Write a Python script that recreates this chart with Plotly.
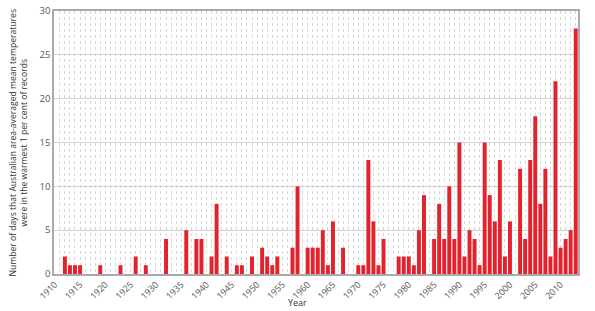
import plotly.graph_objects as go

years = list(range(1910, 2014))
days = [
    0, 0, 2, 1, 1, 1, 0, 0, 0, 1,        # 1910-1919
    0, 0, 0, 1, 0, 0, 2, 0, 1, 0,        # 1920-1929
    0, 0, 4, 0, 0, 0, 5, 0, 4, 4,        # 1930-1939
    0, 2, 8, 0, 2, 0, 1, 1, 0, 2,        # 1940-1949
    0, 3, 2, 1, 2, 0, 0, 3, 10, 0,       # 1950-1959
    3, 3, 3, 5, 1, 6, 0, 3, 0, 0,        # 1960-1969
    1, 1, 13, 6, 1, 4, 0, 0, 2, 2,       # 1970-1979
    2, 1, 5, 9, 0, 4, 8, 4, 10, 4,       # 1980-1989
    15, 2, 5, 4, 1, 15, 9, 6, 13, 2,     # 1990-1999
    6, 0, 12, 4, 13, 18, 8, 12, 2, 22,   # 2000-2009
    3, 4, 5, 28,                         # 2010-2013
]
xtick_vals = list(range(1910, 2011, 5))
xtick_text = [str(v) for v in xtick_vals]
ytick_vals = [0, 5, 10, 15, 20, 25, 30]
x_title = "Year"
y_title = ("Number of days that Australian area-averaged mean temperatures<br>"
           "were in the warmest 1 per cent of records")

FONT = "Open Sans"
W, H = 595, 311
ML, MR, MT, MB = 54, 17, 11, 37

fig = go.Figure()
fig.add_trace(go.Bar(x=years, y=days, marker=dict(color="#E3222C", line=dict(width=0)),
                     width=0.78))

fig.update_layout(
    width=W, height=H,
    margin=dict(l=ML, r=MR, t=MT, b=MB, autoexpand=False),
    paper_bgcolor="white", plot_bgcolor="white",
    showlegend=False,
    font=dict(family=FONT, color="#444", size=9),
)
fig.update_xaxes(
    range=[1909.85, 2013.45],
    tickmode="array", tickvals=xtick_vals, ticktext=xtick_text,
    tickangle=-45, tickfont=dict(size=9, color="#555"),
    showgrid=False,
    minor=dict(dtick=1, tick0=1910, showgrid=True, gridcolor="#d6d6d6",
               griddash="dot", gridwidth=1),
    showline=True, linecolor="#aaa", linewidth=1.5, mirror=True,
    ticks="", zeroline=False, automargin=False,
)
fig.update_yaxes(
    range=[0, 30],
    tickmode="array", tickvals=ytick_vals,
    tickfont=dict(size=9.5, color="#555"),
    showgrid=True, gridcolor="#d4d4d4", gridwidth=1,
    showline=True, linecolor="#aaa", linewidth=1.5, mirror=True,
    ticks="", zeroline=False, automargin=False,
)
fig.add_annotation(text=x_title, xref="paper", yref="paper",
                   x=(W / 2 - ML) / (W - ML - MR), y=-(302 - (H - MB)) / (H - MT - MB),
                   xanchor="center", yanchor="middle", showarrow=False,
                   font=dict(size=9, color="#333", family=FONT))
fig.add_annotation(text=y_title, xref="paper", yref="paper",
                   x=-(ML - 18) / (W - ML - MR), y=0.5, textangle=-90,
                   xanchor="center", yanchor="middle", showarrow=False,
                   font=dict(size=8.6, color="#333", family=FONT))
fig.write_html("out.html")
